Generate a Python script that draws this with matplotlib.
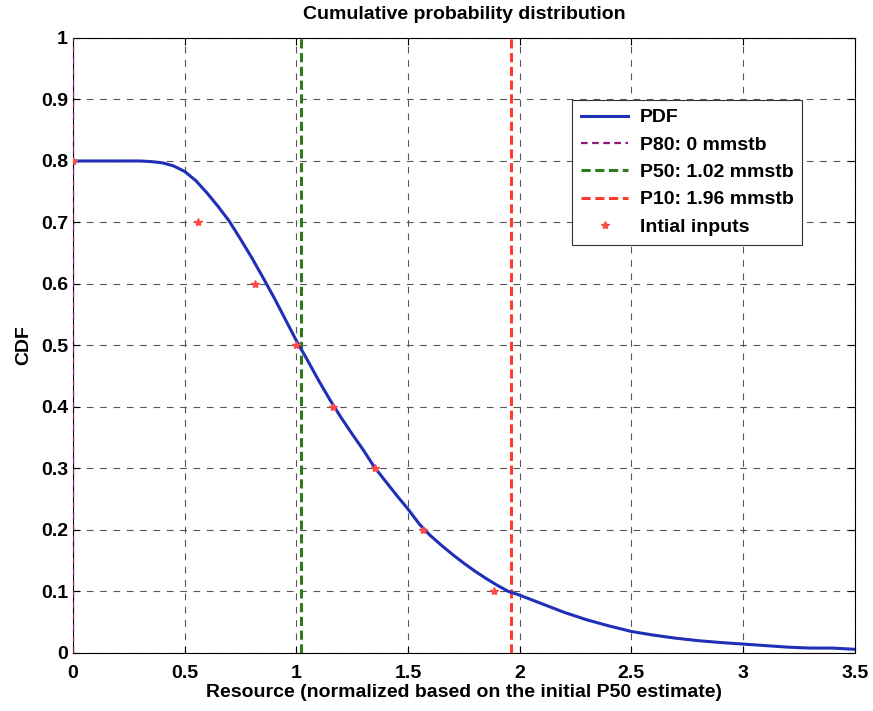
import matplotlib
matplotlib.use('Agg')
import numpy as np
import matplotlib.pyplot as plt

plt.rcParams['font.family'] = ['Liberation Sans Narrow', 'Liberation Sans', 'DejaVu Sans']
plt.rcParams['font.weight'] = 'bold'

# fitted CDF curve
cdf_x = [0, 0.1, 0.2, 0.3, 0.35, 0.4, 0.45, 0.5, 0.55, 0.6, 0.65, 0.7, 0.75,
         0.8, 0.85, 0.9, 0.95, 1.0, 1.05, 1.1, 1.15, 1.2, 1.25, 1.3, 1.35,
         1.4, 1.45, 1.5, 1.55, 1.6, 1.65, 1.7, 1.75, 1.8, 1.85, 1.9, 1.95,
         2.0, 2.1, 2.2, 2.3, 2.4, 2.5, 2.6, 2.7, 2.8, 2.9, 3.0, 3.1, 3.2,
         3.3, 3.4, 3.5]
cdf_y = [0.8, 0.8, 0.8, 0.8, 0.799, 0.797, 0.792, 0.783, 0.768, 0.748, 0.726,
         0.702, 0.673, 0.643, 0.611, 0.578, 0.543, 0.508, 0.476, 0.443, 0.412,
         0.383, 0.356, 0.330, 0.302, 0.279, 0.256, 0.234, 0.210, 0.191, 0.175,
         0.160, 0.146, 0.133, 0.121, 0.110, 0.100, 0.094, 0.080, 0.066, 0.054,
         0.044, 0.035, 0.029, 0.024, 0.020, 0.017, 0.0145, 0.012, 0.0095,
         0.008, 0.008, 0.006]

# initial inputs
in_x = [0.0, 0.56, 0.815, 1.0, 1.165, 1.352, 1.565, 1.885]
in_y = [0.8, 0.7, 0.6, 0.5, 0.4, 0.3, 0.2, 0.1]

p80, p50, p10 = 0.0, 1.02, 1.96

fig = plt.figure(figsize=(8.73, 7.11), dpi=100)
ax = fig.add_axes([0.0836, 0.0816, 0.979 - 0.0836, 0.9466 - 0.0816])

ax.plot(cdf_x, cdf_y, color='#1f2fb8', lw=2.2, label='PDF', zorder=4)
ax.axvline(p80, color='#8b1a7a', ls=(0, (3, 2)), lw=1.6, label='P80: 0 mmstb', zorder=3)
ax.axvline(p50, color='#2e7a1a', ls=(0, (3, 1.5)), lw=2.2, label='P50: 1.02 mmstb', zorder=3)
ax.axvline(p10, color='#ff3b2f', ls=(0, (3, 1.5)), lw=2.2, label='P10: 1.96 mmstb', zorder=3)
ax.plot(in_x, in_y, ls='none', marker='*', ms=6, color='#ff4a4a', label='Intial inputs', zorder=5)

ax.set_xlim(0, 3.5)
ax.set_ylim(0, 1)
ax.set_xticks(np.arange(0, 3.51, 0.5))
ax.set_xticklabels(['0', '0.5', '1', '1.5', '2', '2.5', '3', '3.5'])
ax.set_yticks(np.arange(0, 1.01, 0.1))
ax.set_yticklabels(['0', '0.1', '0.2', '0.3', '0.4', '0.5', '0.6', '0.7', '0.8', '0.9', '1'])
ax.tick_params(direction='in', length=5, top=True, right=True, labelsize=14, width=0.8)
ax.tick_params(axis='x', pad=9)
ax.grid(True, color='#555555', ls=(0, (6, 6)), lw=0.8)

ax.set_title('Cumulative probability distribution', fontsize=14, fontweight='bold', pad=14)
ax.set_xlabel('Resource (normalized based on the initial P50 estimate)', fontsize=14, fontweight='bold', labelpad=1)
ax.set_ylabel('CDF', fontsize=14, fontweight='bold', labelpad=6)

leg = ax.legend(loc='upper left', bbox_to_anchor=(0.639, 0.899), borderaxespad=0,
                fontsize=14, frameon=True, fancybox=False, edgecolor='#333333',
                framealpha=1, borderpad=0.45, labelspacing=0.5, handlelength=2.4,
                handletextpad=0.6)
leg.get_frame().set_linewidth(0.8)

fig.savefig('out.png', dpi=100)
